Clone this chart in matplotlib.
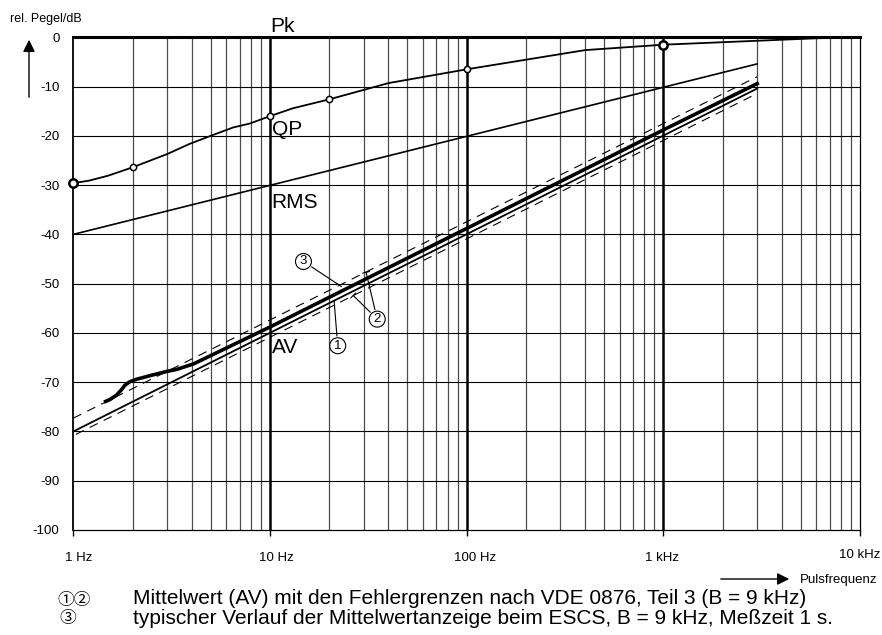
import numpy as np
import matplotlib
matplotlib.use("Agg")
import matplotlib.pyplot as plt
from matplotlib.transforms import ScaledTranslation

plt.rcParams['font.family'] = ['Liberation Sans', 'Noto Sans CJK JP', 'DejaVu Sans']

# --- data ---
pk_f = [1, 10000]
pk_db = [0, 0]

qp_f = [1, 1.2, 1.5, 2, 3, 3.92, 5.15, 6.5, 7.9, 10, 13.1, 20, 40, 100, 400, 1000, 6000, 10000]
qp_db = [-29.6, -29.1, -28.1, -26.4, -23.7, -21.6, -19.8, -18.3, -17.5, -16.0,
         -14.4, -12.6, -9.3, -6.5, -2.6, -1.5, -0.2, 0.0]
qp_mark_f = [2, 10, 20, 100]
qp_mark_db = [-26.4, -16.0, -12.6, -6.5]
qp_big_f = [1, 1000]
qp_big_db = [-29.6, -1.5]

rms_f = [1, 3000]
rms_db = [-40, -5.4]

av_f = [1, 3000]
av_db = [-80, -10.4]
av_hi_f = [1, 3000]
av_hi_db = [-77.3, -8.0]
av_lo_f = [1.03, 3000]
av_lo_db = [-80.6, -11.4]

typ_f = [1.46, 1.54, 1.66, 1.76, 1.83, 1.94, 2.1, 2.55, 3.0, 3.36, 4.08, 10, 100, 1000, 3000]
typ_db = [-73.9, -73.5, -72.6, -71.5, -70.6, -69.9, -69.4, -68.5, -67.8, -67.4, -66.3,
          -58.8, -38.8, -18.8, -9.4]

x_ticks = [1, 10, 100, 1000, 10000]
x_labels = ['1 Hz', '10 Hz', '100 Hz', '1 kHz', '10 kHz']
y_ticks = list(range(0, -101, -10))

fig = plt.figure(figsize=(8.82, 6.35), dpi=100)
ax = fig.add_axes([73.3 / 882, 1 - 530 / 635, (860 - 73.3) / 882, (530 - 37.3) / 635])
ax.set_xscale('log')
ax.set_xlim(1, 10000)
ax.set_ylim(-100, 0)

# grid
for dec in [1, 10, 100, 1000]:
    for m in range(2, 10):
        ax.axvline(dec * m, color='0.3', lw=0.9, zorder=1)
for d in [10, 100, 1000]:
    ax.axvline(d, color='black', lw=1.8, zorder=1)
for y in y_ticks[1:-1]:
    ax.axhline(y, color='black', lw=0.8, zorder=1)

for s in ['left', 'right', 'bottom']:
    ax.spines[s].set_linewidth(0.9)
ax.spines['left'].set_linewidth(1.3)
ax.spines['top'].set_visible(False)

# curves
ax.plot(pk_f, pk_db, color='black', lw=2.2, clip_on=False, zorder=4)
ax.plot(qp_f, qp_db, color='black', lw=1.3, zorder=4)
ax.plot(qp_mark_f, qp_mark_db, 'o', ms=4.5, mfc='white', mec='black', mew=1.1, zorder=5)
ax.plot(qp_big_f, qp_big_db, 'o', ms=6, mfc='white', mec='black', mew=1.8, zorder=5, clip_on=False)
ax.plot(rms_f, rms_db, color='black', lw=1.2, zorder=4)
ax.plot(av_f, av_db, color='black', lw=1.3, zorder=4)
ax.plot(av_hi_f, av_hi_db, color='black', lw=0.8, dashes=(8, 6), zorder=4)
ax.plot(av_lo_f, av_lo_db, color='black', lw=0.8, dashes=(8, 6), zorder=4)
ax.plot(typ_f, typ_db, color='black', lw=2.6, zorder=4, solid_joinstyle='round')

# curve names
ax.text(10, 0.2, 'Pk', fontsize=15, ha='left', va='bottom')
ax.text(10.2, -19.8, 'QP', fontsize=15, ha='left', va='baseline')
ax.text(10.2, -34.6, 'RMS', fontsize=15, ha='left', va='baseline')
ax.text(10.2, -64.0, 'AV', fontsize=15, ha='left', va='baseline')

# circled call-outs
circ = dict(boxstyle='circle,pad=0.15', fc='white', ec='black', lw=0.8)
ax.annotate('', xy=(23.1, -50.6), xytext=(14.8, -45.5),
            arrowprops=dict(arrowstyle='-', lw=0.8, shrinkA=7, shrinkB=0))
ax.text(14.8, -45.5, '3', fontsize=9.5, ha='center', va='center', bbox=circ, zorder=6)
ax.annotate('', xy=(21.2, -53.6), xytext=(22.1, -62.6),
            arrowprops=dict(arrowstyle='-', lw=0.8, shrinkA=7, shrinkB=0))
ax.text(22.1, -62.6, '1', fontsize=9.5, ha='center', va='center', bbox=circ, zorder=6)
ax.annotate('', xy=(30.8, -47.7), xytext=(35.1, -57.2),
            arrowprops=dict(arrowstyle='-[, widthB=0.25, lengthB=0', lw=0.8, shrinkA=7, shrinkB=0))
ax.annotate('', xy=(26.5, -52.4), xytext=(35.1, -57.2),
            arrowprops=dict(arrowstyle='-[, widthB=0.25, lengthB=0', lw=0.8, shrinkA=7, shrinkB=0))
ax.text(35.1, -57.2, '2', fontsize=9.5, ha='center', va='center', bbox=circ, zorder=6)

# ticks
ax.set_xticks(x_ticks)
ax.set_xticklabels(x_labels, fontsize=9.5)
ax.xaxis.set_minor_locator(matplotlib.ticker.NullLocator())
ax.tick_params(axis='x', length=4, width=1, pad=12, direction='out')
offsets = [(5, 0), (6, 0), (8, 0), (-1, 0), (0, 3)]
for lbl, (dx, dy) in zip(ax.get_xticklabels(), offsets):
    lbl.set_transform(lbl.get_transform() + ScaledTranslation(dx / 100, dy / 100, fig.dpi_scale_trans))
ax.set_yticks(y_ticks)
ax.set_yticklabels([str(v) for v in y_ticks], fontsize=9.5)
ax.tick_params(axis='y', length=0, pad=10)

# axis captions with arrows
fig.text(10 / 882, 1 - 19 / 635, 'rel. Pegel/dB', fontsize=9, va='center', ha='left')
fig.add_artist(matplotlib.patches.FancyArrowPatch(
    (29 / 882, 1 - 100 / 635), (29 / 882, 1 - 37 / 635), transform=fig.transFigure,
    arrowstyle='-|>,head_length=0.6,head_width=0.3', mutation_scale=12, lw=1, color='black'))
fig.text(800 / 882, 1 - 580 / 635, 'Pulsfrequenz', fontsize=9.5, va='center', ha='left')
fig.add_artist(matplotlib.patches.FancyArrowPatch(
    (718 / 882, 1 - 579 / 635), (792 / 882, 1 - 579 / 635), transform=fig.transFigure,
    arrowstyle='-|>,head_length=0.6,head_width=0.3', mutation_scale=12, lw=1, color='black'))

# footnotes
cjk = ['Noto Sans CJK JP', 'DejaVu Sans']
fig.text(57 / 882, 1 - 600 / 635, '①②', fontsize=12, va='center', ha='left', family=cjk)
fig.text(59 / 882, 1 - 619 / 635, '③', fontsize=12, va='center', ha='left', family=cjk)
fig.text(133 / 882, 1 - 599 / 635,
         'Mittelwert (AV) mit den Fehlergrenzen nach VDE 0876, Teil 3 (B = 9 kHz)',
         fontsize=15, va='center', ha='left')
fig.text(133 / 882, 1 - 619 / 635,
         'typischer Verlauf der Mittelwertanzeige beim ESCS, B = 9 kHz, Meßzeit 1 s.',
         fontsize=15, va='center', ha='left')

fig.savefig('out.png', dpi=100)
